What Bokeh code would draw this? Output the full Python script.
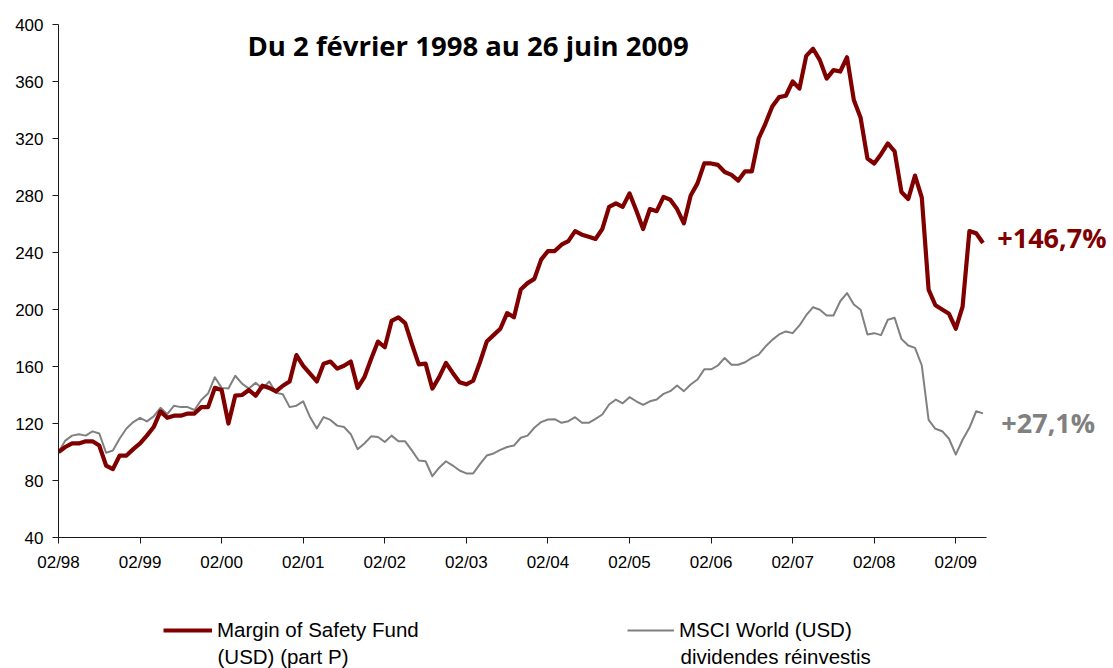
from bokeh.plotting import figure
from bokeh.layouts import column
from bokeh.models import Range1d, FixedTicker, Label, Legend, LegendItem
from bokeh.embed import file_html
from bokeh.resources import INLINE

# Monthly values, from 02/1998 (index 0) to 06/2009 (index 136), base 100
fund = [100, 103.5, 106, 106, 107.5, 107.5, 104.5, 90.5, 88, 97.5, 97.5, 102,
        106, 111.5, 117.5, 128.5, 124, 125.5, 125.5, 127, 127, 131.5, 131.5, 145,
        143.5, 120, 139.5, 140, 143.5, 139.5, 146.5, 145, 142.5, 146.5, 149.5, 168,
        160.5, 155, 149.5, 162, 163.5, 158.5, 160.5, 163.5, 145, 152.5, 165.5, 177.5,
        173.5, 192, 194.5, 190.5, 175.5, 161.5, 162, 144.5, 152.5, 162.5, 155.5, 149,
        147.5, 150, 163, 177.5, 182, 186.5, 197.5, 194.5, 214, 218.5, 221.5, 235,
        241, 241, 245.5, 248, 255, 252.5, 251, 249.5, 256.5, 272, 274.5, 272,
        281.5, 269.5, 256.5, 270.5, 269, 279, 277, 270.5, 260.5, 280, 288.5, 302.5,
        302.5, 301.5, 296.5, 294.5, 290.5, 297, 297, 320, 330.5, 342.5, 349, 350,
        360, 355, 378, 383, 375, 362, 368, 367, 377, 347, 334.5, 306,
        302.5, 309, 316.5, 311, 282.5, 277.5, 294, 278.5, 214, 203, 200, 197,
        186.5, 202, 255, 253.5, 246.7]

msci = [100, 108, 111.5, 112.5, 111.5, 114.5, 113, 99.5, 101, 109.5, 116.5, 121,
        124, 121.5, 125, 131, 126.5, 132.5, 131.5, 131.5, 129.5, 136.5, 141, 152.5,
        145, 144.5, 153.5, 148, 144.5, 148.5, 144.5, 149.5, 141.5, 140.5, 131.5, 132.5,
        135.5, 124.5, 116.5, 124.5, 122.5, 118.5, 117.5, 112.5, 102, 106, 111, 110.5,
        107, 111.5, 107.5, 107.5, 101, 94, 93.5, 83, 89, 93.5, 90.5, 87,
        85, 85, 91.5, 97.5, 99, 101.5, 103.5, 104.5, 110, 111.5, 117, 121,
        122.8, 123, 120.5, 121.6, 124.4, 120.5, 120.5, 123.3, 126.3, 133.3, 136.8, 134.2,
        138.5, 135.6, 133.1, 135.6, 136.8, 140.8, 142.7, 146.7, 142.7, 147.4, 150.9, 158,
        158, 160.7, 166, 161.2, 161.2, 163, 166, 168.4, 174, 178.7, 182.5, 184.6,
        183.4, 188.8, 196, 201.6, 199.8, 195.8, 195.8, 205.8, 211.5, 203.5, 199.8, 182.5,
        183.4, 182, 192.8, 194.2, 179.4, 174.7, 173.1, 160.7, 122.6, 116.3, 114.6, 109.3,
        98.2, 108.6, 117, 128.6, 127.1]

months = list(range(len(fund)))
tick_pos = [0, 12, 24, 36, 48, 60, 72, 84, 96, 108, 120, 132]
tick_labels = ["02/98", "02/99", "02/00", "02/01", "02/02", "02/03",
               "02/04", "02/05", "02/06", "02/07", "02/08", "02/09"]
y_ticks = [40, 80, 120, 160, 200, 240, 280, 320, 360, 400]

title_text = "Du 2 février 1998 au 26 juin 2009"
fund_perf = "+146,7%"
msci_perf = "+27,1%"
fund_name = ["Margin of Safety Fund", "(USD) (part P)"]
msci_name = ["MSCI World (USD)", "dividendes réinvestis"]

RED = "#800000"
GRAY = "#808080"

# ---------------- main chart ----------------
# The frame runs to the right edge so the end labels are not clipped;
# the x axis itself stops at the last month through its bounds.
p = figure(width=1113, height=590, output_backend="svg", toolbar_location=None,
           x_range=Range1d(0, 155.2), y_range=Range1d(40, 400),
           min_border_left=58, min_border_right=0, min_border_top=24,
           min_border_bottom=53)
p.background_fill_color = "white"
p.border_fill_color = "white"
p.outline_line_color = None
p.xgrid.visible = False
p.ygrid.visible = False

p.line(months, msci, line_color=GRAY, line_width=2, line_join="round")
p.line(months, fund, line_color=RED, line_width=4.2, line_join="round")

for ax in (p.xaxis[0], p.yaxis[0]):
    ax.axis_line_color = "#1a1a1a"
    ax.major_tick_line_color = "#1a1a1a"
    ax.minor_tick_line_color = None
    ax.major_tick_in = 0
    ax.major_tick_out = 6
    ax.major_label_text_font = "Liberation Sans"
    ax.major_label_text_font_size = "17px"
    ax.major_label_text_color = "#000000"

p.xaxis.bounds = (0, 136.5)
p.xaxis.ticker = FixedTicker(ticks=tick_pos)
p.xaxis.major_label_overrides = {t: l for t, l in zip(tick_pos, tick_labels)}
p.xaxis.major_label_standoff = 9
p.yaxis.ticker = FixedTicker(ticks=y_ticks)
p.yaxis.major_label_standoff = 9

p.add_layout(Label(x=27.8, y=385.3, text=title_text, text_font="Open Sans",
                   text_font_style="bold", text_font_size="27.5px",
                   text_color="#000000", text_baseline="alphabetic"))
p.add_layout(Label(x=138.1, y=250.5, text=fund_perf, text_font="Open Sans",
                   text_font_style="bold", text_font_size="27px",
                   text_color=RED, text_baseline="alphabetic"))
p.add_layout(Label(x=138.7, y=120.7, text=msci_perf, text_font="Open Sans",
                   text_font_style="bold", text_font_size="27px",
                   text_color=GRAY, text_baseline="alphabetic"))

# ---------------- legend strip ----------------
lf = figure(width=1113, height=78, output_backend="svg", toolbar_location=None,
            x_range=Range1d(58, 1113), y_range=Range1d(668, 590),
            x_axis_type=None, y_axis_type=None,
            min_border_left=58, min_border_right=0, min_border_top=0,
            min_border_bottom=0)
lf.background_fill_color = "white"
lf.border_fill_color = "white"
lf.outline_line_color = None
lf.xgrid.visible = False
lf.ygrid.visible = False

nan = float("nan")
k_fund = lf.line(x=[nan], y=[nan], line_color=RED, line_width=4.2)
k_msci = lf.line(x=[nan], y=[nan], line_color=GRAY, line_width=2)

LEG_FONT = "20.5px"

def make_legend(item, label, loc, gw):
    return Legend(items=[LegendItem(label=label, renderers=[item])],
                  location=loc, orientation="horizontal",
                  padding=0, margin=0, spacing=0,
                  glyph_width=gw, glyph_height=24, label_height=24,
                  label_standoff=5, border_line_color=None,
                  background_fill_alpha=0,
                  label_text_font="Liberation Sans", label_text_font_size=LEG_FONT,
                  label_text_color="#000000")

lf.add_layout(make_legend(k_fund, fund_name[0], (105, 26), 49), "center")
lf.add_layout(make_legend(k_msci, msci_name[0], (569, 26), 47), "center")

lf.add_layout(Label(x=217, y=656, text=fund_name[1], text_font="Liberation Sans",
                    text_font_size=LEG_FONT, text_color="#000000",
                    text_baseline="alphabetic"))
lf.add_layout(Label(x=680, y=656, text=msci_name[1], text_font="Liberation Sans",
                    text_font_size=LEG_FONT, text_color="#000000",
                    text_baseline="alphabetic"))

layout = column(p, lf, spacing=0)
open("out.html", "w").write(file_html(layout, INLINE))
